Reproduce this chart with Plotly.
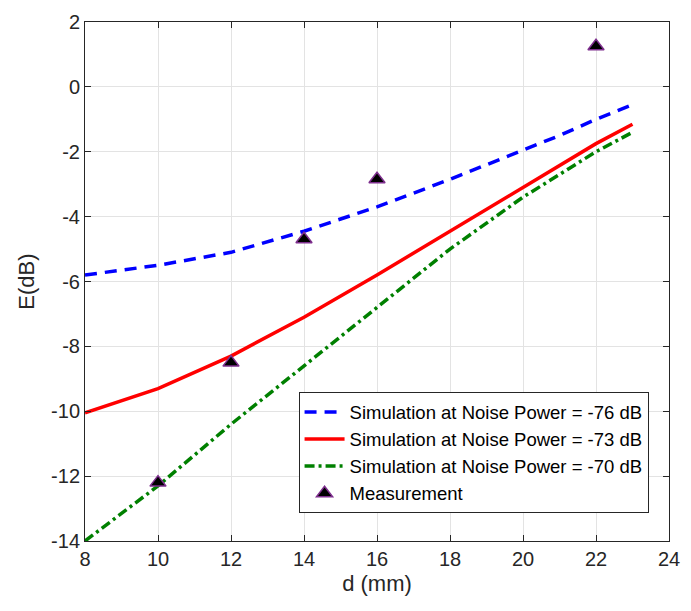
import plotly.graph_objects as go

# Distance d (mm) and simulated E (dB) for three noise power levels
d_sim = [8, 10, 12, 14, 16, 18, 20, 21, 22, 23]
e_sim_76 = [-5.8, -5.5, -5.1, -4.45, -3.7, -2.85, -1.95, -1.5, -1.0, -0.55]
e_sim_73 = [-10.05, -9.3, -8.3, -7.1, -5.8, -4.45, -3.1, -2.4, -1.75, -1.15]
e_sim_70 = [-14.0, -12.3, -10.4, -8.6, -6.8, -5.0, -3.4, -2.7, -2.0, -1.4]

# Measured points
d_meas = [10, 12, 14, 16, 22]
e_meas = [-12.2, -8.5, -4.7, -2.85, 1.25]

x_ticks = [8, 10, 12, 14, 16, 18, 20, 22, 24]
y_ticks = [-14, -12, -10, -8, -6, -4, -2, 0, 2]

FONT = "Liberation Sans, Arial, Helvetica, sans-serif"
AXIS_COLOR = "#262626"

fig = go.Figure()
fig.add_trace(go.Scatter(
    x=d_sim, y=e_sim_76, mode="lines",
    name="Simulation at Noise Power = -76 dB",
    line=dict(color="#0000FF", width=3.5, dash="12px,8px"),
))
fig.add_trace(go.Scatter(
    x=d_sim, y=e_sim_73, mode="lines",
    name="Simulation at Noise Power = -73 dB",
    line=dict(color="#FF0000", width=3.5),
))
fig.add_trace(go.Scatter(
    x=d_sim, y=e_sim_70, mode="lines",
    name="Simulation at Noise Power = -70 dB",
    line=dict(color="#008000", width=3.5, dash="10px,4px,3px,4px"),
))
fig.add_trace(go.Scatter(
    x=d_meas, y=e_meas, mode="markers",
    name="Measurement",
    marker=dict(symbol="triangle-up", size=14, color="#000000",
                line=dict(color="#7E2F8E", width=1.5)),
))

axis_common = dict(
    showline=True, linecolor=AXIS_COLOR, linewidth=1, mirror="ticks",
    ticks="inside", ticklen=6, tickcolor=AXIS_COLOR, tickwidth=1,
    showgrid=True, gridcolor="#E3E3E3", gridwidth=1, zeroline=False,
    tickfont=dict(family=FONT, size=20, color=AXIS_COLOR),
)

fig.update_xaxes(
    range=[8, 24], tickvals=x_ticks, ticktext=[str(v) for v in x_ticks],
    title=dict(text="d (mm)", font=dict(family=FONT, size=22, color=AXIS_COLOR), standoff=6),
    **axis_common,
)
fig.update_yaxes(
    range=[-14, 2], tickvals=y_ticks, ticktext=[str(v) for v in y_ticks],
    title=dict(text="E(dB)", font=dict(family=FONT, size=22, color=AXIS_COLOR), standoff=10),
    **axis_common,
)

fig.update_layout(
    width=691, height=611,
    margin=dict(l=85, r=11, t=11, b=70),
    paper_bgcolor="white", plot_bgcolor="white",
    font=dict(family=FONT, color="#000000"),
    showlegend=True,
    legend=dict(
        x=0.965, y=0.053, xanchor="right", yanchor="bottom",
        bgcolor="white", bordercolor=AXIS_COLOR, borderwidth=1,
        font=dict(family=FONT, size=18.5, color="#000000"),
        itemwidth=40, tracegroupgap=0,
    ),
)

fig.write_html("out.html")
